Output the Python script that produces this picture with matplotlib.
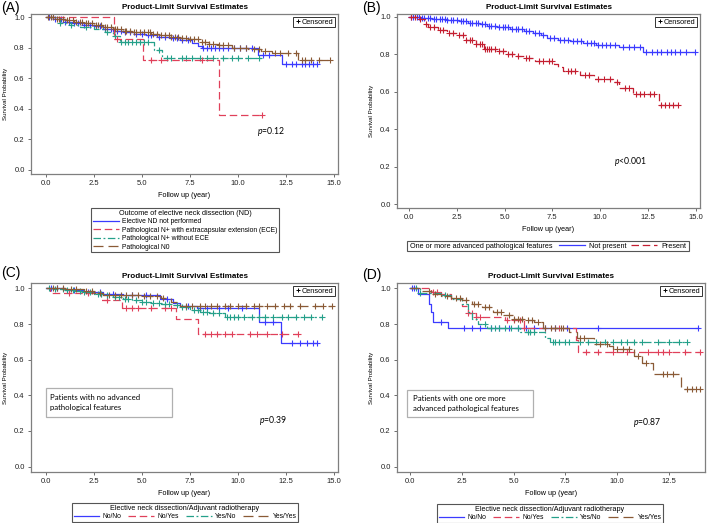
import numpy as np
import matplotlib
matplotlib.use("Agg")
import matplotlib.pyplot as plt
from matplotlib.lines import Line2D
from matplotlib.patches import Rectangle

plt.rcParams['font.family'] = ['Liberation Sans', 'DejaVu Sans']
plt.rcParams['mathtext.fontset'] = 'custom'
plt.rcParams['mathtext.it'] = 'Lato:italic'
plt.rcParams['mathtext.rm'] = 'Lato'

# ---- colours / styles of the groups ----
BLUE = '#3b3bff'
RED = '#e0405a'
DRED = '#c41e30'
TEAL = '#25a08a'
BROWN = '#8a5a36'
LS_SOLID = '-'
LS_DASH = (0, (6, 3))
LS_DASHDOT = (0, (6, 2, 1.5, 2))
LS_LONG = (0, (8, 4))

# ---- Panel A: outcome of elective neck dissection ----
a_blue_t = [0, 0.5, 1.0, 1.5, 2.0, 2.5, 3.0, 3.5, 4.0, 4.6, 5.2, 5.8, 6.4, 7.0, 7.6, 7.9, 8.1, 11.05, 12.3, 14.1]
a_blue_s = [1.0, 0.985, 0.97, 0.96, 0.95, 0.94, 0.925, 0.91, 0.90, 0.89, 0.88, 0.87, 0.86, 0.85, 0.83, 0.81, 0.795, 0.75, 0.695, 0.695]
a_blue_c = [0.2, 0.5, 0.8, 1.0, 1.2, 1.5, 1.7, 2.0, 2.3, 2.6, 2.8, 3.1, 3.4, 3.7, 3.9, 4.1, 4.4, 4.7, 5.0,
            5.3, 5.5, 5.9, 6.2, 6.6, 6.8, 7.1, 7.4, 8.2, 8.4, 8.6, 8.8, 9.0, 9.2, 9.5, 9.8, 10.1, 10.4,
            10.7, 11.3, 11.6, 12.5, 12.8, 13.0, 13.3, 13.5, 13.7, 13.9, 14.1]
a_red_t = [0, 3.57, 5.08, 9.01, 11.23]
a_red_s = [1.0, 0.857, 0.717, 0.36, 0.36]
a_red_c = [3.7, 5.45, 6.0, 8.15, 11.23]
a_teal_t = [0, 0.75, 1.3, 1.8, 2.5, 3.1, 3.5, 3.85, 5.65, 6.05, 11.2]
a_teal_s = [1.0, 0.96, 0.95, 0.935, 0.92, 0.905, 0.875, 0.84, 0.785, 0.73, 0.73]
a_teal_c = [0.75, 1.3, 2.1, 3.2, 3.6, 3.9, 4.1, 4.3, 4.5, 4.7, 4.9, 5.1, 5.3, 5.9, 6.3, 6.5, 7.1, 7.3,
            7.6, 8.0, 8.4, 8.7, 9.2, 9.7, 10.0, 10.5, 11.1]
a_brown_t = [0, 0.5, 1.0, 1.5, 2.0, 2.5, 3.0, 3.5, 4.0, 4.5, 5.0, 5.5, 6.0, 6.5, 7.0, 7.5, 8.0, 8.5, 9.0,
             9.7, 10.5, 11.2, 11.75, 13.1, 14.8]
a_brown_s = [1.0, 0.99, 0.98, 0.97, 0.96, 0.95, 0.935, 0.92, 0.91, 0.905, 0.90, 0.89, 0.88, 0.87, 0.86,
             0.855, 0.835, 0.825, 0.815, 0.80, 0.79, 0.78, 0.765, 0.72, 0.72]
a_brown_c = [0.1, 0.3, 0.4, 0.6, 0.7, 0.9, 1.1, 1.2, 1.4, 1.6, 1.8, 1.9, 2.1, 2.2, 2.4, 2.6, 2.7, 2.9,
             3.1, 3.2, 3.4, 3.6, 3.7, 3.9, 4.1, 4.2, 4.4, 4.6, 4.7, 4.9, 5.1, 5.3, 5.4, 5.6, 5.8, 6.0,
             6.2, 6.4, 6.5, 6.7, 6.9, 7.1, 7.3, 7.5, 7.7, 7.9, 8.1, 8.3, 8.5, 8.7, 9.0, 9.2, 9.5, 9.8,
             10.1, 10.4, 10.8, 11.1, 11.4, 11.9, 12.2, 12.6, 13.0, 13.3, 13.5, 13.8, 14.2, 14.8]
a_labels = ['Elective ND not performed', 'Pathological N+ with extracapsular extension (ECE)',
            'Pathological N+ without ECE', 'Pathological N0']

# ---- Panel B: advanced pathological features ----
b_np_t = [0, 0.6, 1.2, 2.0, 2.6, 3.1, 3.7, 4.1, 4.6, 5.3, 6.0, 6.5, 6.9, 7.2, 7.8, 8.4, 9.1, 9.8, 11.0, 12.25, 14.95]
b_np_s = [1.0, 0.995, 0.99, 0.98, 0.975, 0.965, 0.96, 0.95, 0.945, 0.935, 0.925, 0.915, 0.90, 0.885,
          0.875, 0.87, 0.86, 0.85, 0.84, 0.81, 0.81]
b_np_c = [0.1, 0.2, 0.4, 0.5, 0.7, 0.8, 1.0, 1.1, 1.3, 1.4, 1.6, 1.7, 1.9, 2.0, 2.2, 2.3, 2.5, 2.7, 2.8,
          3.0, 3.2, 3.3, 3.5, 3.6, 3.8, 4.0, 4.2, 4.3, 4.5, 4.7, 4.9, 5.0, 5.2, 5.4, 5.6, 5.7, 5.9,
          6.1, 6.3, 6.6, 6.8, 7.0, 7.4, 7.6, 7.9, 8.1, 8.3, 8.6, 8.8, 9.0, 9.3, 9.5, 9.7, 9.9, 10.1,
          10.3, 10.5, 10.8, 11.2, 11.5, 11.8, 12.1, 12.4, 12.7, 13.0, 13.2, 13.5, 13.7, 13.9, 14.2,
          14.5, 14.95]
b_p_t = [0, 0.4, 0.85, 1.0, 1.5, 2.0, 2.5, 3.0, 3.5, 3.9, 4.6, 5.1, 5.6, 6.0, 6.6, 7.6, 7.8, 8.08,
         8.95, 9.7, 10.7, 11.0, 11.7, 13.1, 14.1]
b_p_s = [1.0, 0.99, 0.96, 0.945, 0.93, 0.915, 0.90, 0.875, 0.855, 0.83, 0.815, 0.80, 0.79, 0.78,
         0.765, 0.745, 0.73, 0.71, 0.69, 0.67, 0.65, 0.62, 0.585, 0.527, 0.527]
b_p_c = [0.1, 0.3, 0.6, 0.9, 1.1, 1.3, 1.6, 1.8, 2.1, 2.3, 2.6, 2.8, 3.0, 3.2, 3.3, 3.5, 3.7, 3.8,
         4.0, 4.1, 4.2, 4.3, 4.5, 4.7, 4.9, 5.2, 5.4, 5.7, 6.1, 6.3, 6.8, 7.0, 7.3, 7.5, 8.3, 8.5,
         8.7, 9.2, 9.4, 9.9, 10.2, 10.5, 10.9, 11.3, 11.5, 11.9, 12.1, 12.3, 12.6, 12.8, 13.2, 13.4,
         13.6, 13.8, 14.1]
b_title = 'One or more advanced pathological features'
b_labels = ['Not present', 'Present']

# ---- Panel C: no advanced pathological features ----
c_nn_t = [0, 1.0, 2.0, 3.0, 4.0, 5.0, 5.95, 6.6, 7.0, 7.85, 11.06, 12.25, 14.1]
c_nn_s = [1.0, 0.99, 0.98, 0.97, 0.965, 0.96, 0.94, 0.92, 0.90, 0.89, 0.81, 0.695, 0.695]
c_nn_c = [0.3, 0.6, 1.5, 2.2, 2.8, 3.5, 4.5, 5.2, 6.3, 7.4, 8.0, 8.4, 9.0, 9.5, 10.2, 11.4, 11.8,
          12.8, 13.2, 13.6, 13.9, 14.1]
c_ny_t = [0, 0.25, 2.9, 3.95, 6.78, 7.94, 13.1]
c_ny_s = [1.0, 0.972, 0.935, 0.892, 0.826, 0.744, 0.744]
c_ny_c = [1.2, 2.2, 3.2, 4.2, 4.5, 4.8, 5.5, 6.2, 6.5, 8.3, 8.6, 8.9, 9.3, 9.7, 10.6, 11.0, 11.5,
          12.3, 13.1]
c_yn_t = [0, 0.5, 1.0, 1.5, 2.0, 2.5, 3.0, 3.5, 4.0, 4.5, 5.0, 5.5, 6.0, 6.5, 7.0, 7.5, 8.0, 8.5, 9.3, 14.35]
c_yn_s = [1.0, 0.995, 0.99, 0.985, 0.98, 0.97, 0.96, 0.95, 0.94, 0.935, 0.925, 0.92, 0.915, 0.905,
          0.895, 0.88, 0.87, 0.86, 0.84, 0.84]
c_yn_c = [0.2, 0.5, 0.9, 1.1, 1.4, 1.8, 2.0, 2.3, 2.7, 2.9, 3.2, 3.6, 3.8, 4.1, 4.3, 4.7, 5.0, 5.2,
          5.6, 5.9, 6.2, 6.4, 6.8, 7.1, 7.3, 7.7, 7.9, 8.2, 8.4, 8.7, 9.0, 9.4, 9.6, 9.8, 10.0,
          10.3, 10.7, 11.1, 11.4, 11.8, 12.3, 12.6, 13.0, 13.4, 13.8, 14.35]
c_yy_t = [0, 1.0, 2.0, 2.5, 3.0, 3.5, 5.0, 6.0, 6.5, 7.0, 14.87]
c_yy_s = [1.0, 0.995, 0.985, 0.975, 0.965, 0.96, 0.955, 0.945, 0.925, 0.90, 0.90]
c_yy_c = [0.4, 0.6, 0.9, 1.3, 1.6, 2.1, 2.4, 2.8, 3.3, 3.6, 3.9, 4.2, 4.5, 4.8, 5.1, 5.4, 5.8, 6.1,
          7.3, 7.6, 8.0, 8.3, 8.6, 8.9, 9.3, 9.6, 10.0, 10.4, 10.8, 11.1, 11.5, 11.9, 12.4, 12.7,
          13.2, 14.0, 14.4, 14.87]

# ---- Panel D: one or more advanced pathological features ----
d_nn_t = [0, 0.4, 0.9, 1.0, 1.13, 1.85, 13.9]
d_nn_s = [1.0, 0.97, 0.91, 0.87, 0.81, 0.78, 0.78]
d_nn_c = [0.1, 0.2, 1.5, 2.6, 3.0, 3.4, 3.9, 4.3, 4.8, 5.2, 5.6, 6.0, 6.5, 7.0, 7.6, 9.1, 13.9]
d_ny_t = [0, 1.0, 1.5, 2.0, 2.5, 2.8, 3.2, 4.6, 5.5, 8.0, 8.1, 14.0]
d_ny_s = [1.0, 0.98, 0.97, 0.94, 0.90, 0.86, 0.84, 0.82, 0.78, 0.71, 0.645, 0.645]
d_ny_c = [1.1, 1.3, 2.8, 3.0, 3.2, 3.4, 4.7, 5.0, 5.3, 5.5, 7.2, 8.5, 9.1, 9.8, 10.5, 11.5, 12.0,
          12.2, 12.5, 13.3, 14.0]
d_yn_t = [0, 0.5, 1.5, 2.0, 2.5, 2.8, 3.0, 3.3, 3.7, 5.3, 6.5, 6.77, 13.4]
d_yn_s = [1.0, 0.975, 0.96, 0.94, 0.91, 0.87, 0.83, 0.80, 0.778, 0.757, 0.72, 0.70, 0.70]
d_yn_c = [0.3, 0.5, 1.7, 3.6, 3.9, 4.1, 4.3, 4.6, 4.9, 5.2, 5.7, 5.8, 6.0, 6.9, 7.0, 7.2, 7.5, 7.7,
          8.2, 8.6, 9.0, 9.4, 9.8, 10.2, 10.5, 10.8, 11.2, 12.0, 12.5, 13.0, 13.4]
d_yy_t = [0, 0.5, 1.0, 1.5, 2.0, 2.5, 3.0, 3.5, 4.0, 4.5, 5.0, 5.5, 6.0, 6.4, 7.7, 8.05, 8.9, 9.6,
          9.8, 10.8, 11.2, 11.75, 13.1, 14.0]
d_yy_s = [1.0, 0.985, 0.97, 0.955, 0.945, 0.935, 0.915, 0.895, 0.87, 0.85, 0.83, 0.82, 0.81, 0.78,
          0.757, 0.72, 0.69, 0.676, 0.66, 0.622, 0.58, 0.518, 0.434, 0.434]
d_yy_c = [0.9, 1.2, 1.8, 2.2, 2.4, 2.7, 3.1, 3.3, 3.6, 3.8, 4.2, 4.4, 4.8, 5.0, 5.2, 5.4, 5.7, 5.9,
          6.2, 6.5, 6.8, 7.0, 7.3, 7.4, 8.2, 8.4, 9.2, 9.5, 10.0, 10.3, 10.6, 11.0, 11.4, 12.2,
          12.4, 12.7, 13.4, 13.6, 13.8, 14.0]
cd_labels = ['No/No', 'No/Yes', 'Yes/No', 'Yes/Yes']

W, H = 709, 523
fig = plt.figure(figsize=(W / 100, H / 100), dpi=100)

def px_axes(l, t, r, b):
    return fig.add_axes([l / W, 1 - b / H, (r - l) / W, (b - t) / H])

def km(ax, t, s, c, color, ls):
    t = np.array(t); s = np.array(s)
    ax.step(t, s, where='post', color=color, lw=0.9, linestyle=ls)
    c = np.array(c)
    idx = np.searchsorted(t, c, side='right') - 1
    ax.plot(c, s[np.clip(idx, 0, len(s) - 1)], '+', color=color, ms=3.8, mew=0.8, ls='none')

def style(ax, xlim, ylim, ticks_x):
    ax.set_xlim(*xlim)
    ax.set_ylim(*ylim)
    ax.set_xticks(ticks_x)
    ax.set_xticklabels(['%.1f' % v for v in ticks_x])
    ax.set_yticks([0, 0.2, 0.4, 0.6, 0.8, 1.0])
    ax.set_yticklabels(['0.0', '0.2', '0.4', '0.6', '0.8', '1.0'])
    ax.tick_params(labelsize=5.5, length=2.5, width=0.6, color='#555555', labelcolor='#222222', pad=2)
    for sp in ax.spines.values():
        sp.set_color('#7f7f7f')
        sp.set_linewidth(0.9)
    ax.set_title('Product-Limit Survival Estimates', fontsize=5.8, fontweight='bold', pad=3.5)
    ax.set_xlabel('Follow up (year)', fontsize=5.2, labelpad=3.5)
    ax.set_ylabel('Survival Probability', fontsize=4.4, labelpad=4.5)
    h = Line2D([], [], marker='+', color='black', ls='none', ms=3.5, mew=0.7)
    lg = ax.legend([h], ['Censored'], loc='upper right', fontsize=5.3, handlelength=0.6,
                   handletextpad=0.3, borderpad=0.25, borderaxespad=0.35, fancybox=False,
                   edgecolor='#333333', framealpha=1)
    lg.get_frame().set_linewidth(0.7)

def grp_legend(handles, labels, x, y, title, ncol):
    lg = fig.legend(handles, labels, loc='upper center', bbox_to_anchor=(x / W, 1 - y / H),
                    ncol=ncol, title=title, fontsize=4.9, title_fontsize=5.2, handlelength=3.8,
                    handletextpad=0.5, labelspacing=0.2, columnspacing=1.0, borderpad=0.25,
                    fancybox=False, edgecolor='#555555', framealpha=1)
    lg.get_frame().set_linewidth(0.8)
    lg._legend_box.sep = 1
    return lg

def hnd(color, ls):
    return Line2D([], [], color=color, lw=0.9, linestyle=ls)

ticks15 = [0, 2.5, 5, 7.5, 10, 12.5, 15]

# Panel A
axA = px_axes(31, 14, 338, 174)
km(axA, a_blue_t, a_blue_s, a_blue_c, BLUE, LS_SOLID)
km(axA, a_teal_t, a_teal_s, a_teal_c, TEAL, LS_DASHDOT)
km(axA, a_red_t, a_red_s, a_red_c, RED, LS_DASH)
km(axA, a_brown_t, a_brown_s, a_brown_c, BROWN, LS_LONG)
style(axA, (-0.76, 15.19), (-0.027, 1.02), ticks15)
axA.text(11.7, 0.25, r'$\it{p}$=0.12', fontsize=6.2, family='Lato', ha='center', va='center')
grp_legend([hnd(BLUE, LS_SOLID), hnd(RED, LS_DASH), hnd(TEAL, LS_DASHDOT), hnd(BROWN, LS_LONG)],
           a_labels, 185, 205, 'Outcome of elective neck dissection (ND)', 1)

# Panel B
axB = px_axes(397, 14, 700, 208)
km(axB, b_np_t, b_np_s, b_np_c, BLUE, LS_SOLID)
km(axB, b_p_t, b_p_s, b_p_c, DRED, LS_DASH)
style(axB, (-0.63, 15.23), (-0.02, 1.014), ticks15)
axB.text(11.6, 0.226, r'$\it{p}$<0.001', fontsize=6.2, family='Lato', ha='center', va='center')
# inline legend: frame, title on the left, two entries on the right
fig.patches.append(Rectangle((407 / W, 1 - 251 / H), 282 / W, 10 / H, transform=fig.transFigure,
                             fill=False, ec='#555555', lw=0.8))
fig.text(410 / W, 1 - 246 / H, b_title, fontsize=5.2, va='center', ha='left')
lgB = fig.legend([hnd(BLUE, LS_SOLID), hnd(DRED, LS_DASH)], b_labels,
                 loc='center right', bbox_to_anchor=(686 / W, 1 - 246 / H), ncol=2,
                 fontsize=5.2, handlelength=3.7, handletextpad=0.5, columnspacing=0.6,
                 borderpad=0, borderaxespad=0, frameon=False)

# Panel C
axC = px_axes(31, 283, 338, 472)
km(axC, c_nn_t, c_nn_s, c_nn_c, BLUE, LS_SOLID)
km(axC, c_ny_t, c_ny_s, c_ny_c, RED, LS_DASH)
km(axC, c_yn_t, c_yn_s, c_yn_c, TEAL, LS_DASHDOT)
km(axC, c_yy_t, c_yy_s, c_yy_c, BROWN, LS_LONG)
style(axC, (-0.76, 15.19), (-0.03, 1.03), ticks15)
axC.text(11.8, 0.26, r'$\it{p}$=0.39', fontsize=6.2, family='Lato', ha='center', va='center')
axC.add_patch(Rectangle((0.0, 0.278), 6.56, 0.162, fill=False, ec='#b0b0b0', lw=0.9))
axC.text(0.22, 0.36, 'Patients with no advanced\npathological features', fontsize=5.6,
         family='Lato', va='center', ha='left', linespacing=1.4)
grp_legend([hnd(BLUE, LS_SOLID), hnd(RED, LS_DASH), hnd(TEAL, LS_DASHDOT), hnd(BROWN, LS_LONG)],
           cd_labels, 185, 500, 'Elective neck dissection/Adjuvant radiotherapy', 4)

# Panel D
axD = px_axes(397, 283, 705, 472)
km(axD, d_nn_t, d_nn_s, d_nn_c, BLUE, LS_SOLID)
km(axD, d_ny_t, d_ny_s, d_ny_c, RED, LS_DASH)
km(axD, d_yn_t, d_yn_s, d_yn_c, TEAL, LS_DASHDOT)
km(axD, d_yy_t, d_yy_s, d_yy_c, BROWN, LS_LONG)
style(axD, (-0.63, 14.25), (-0.03, 1.03), [0, 2.5, 5, 7.5, 10, 12.5])
axD.text(11.45, 0.245, r'$\it{p}$=0.87', fontsize=6.2, family='Lato', ha='center', va='center')
axD.add_patch(Rectangle((-0.15, 0.278), 6.1, 0.154, fill=False, ec='#b0b0b0', lw=0.9))
axD.text(0.15, 0.355, 'Patients with one ore more\nadvanced pathological features', fontsize=5.6,
         family='Lato', va='center', ha='left', linespacing=1.4)
grp_legend([hnd(BLUE, LS_SOLID), hnd(RED, LS_DASH), hnd(TEAL, LS_DASHDOT), hnd(BROWN, LS_LONG)],
           cd_labels, 550, 501, 'Elective neck dissection/Adjuvant radiotherapy', 4)

# panel letters
for lab, x, y in [('(A)', 1, 8), ('(B)', 362, 8), ('(C)', 1, 273), ('(D)', 362, 275)]:
    fig.text(x / W, 1 - y / H, lab, fontsize=10, va='center', ha='left')

fig.savefig('out.png', dpi=100)
